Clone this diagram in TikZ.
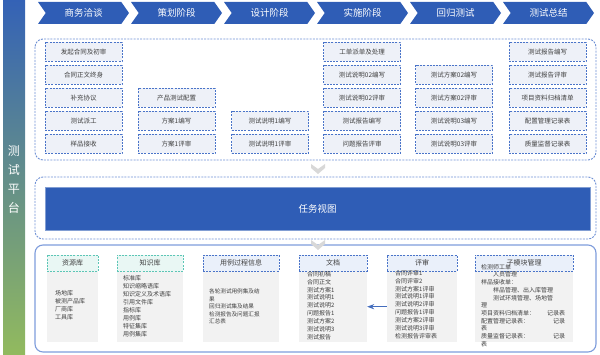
\documentclass[tikz,border=0pt]{standalone}
\usepackage{fontspec}
\setmainfont{Noto Sans CJK SC}
\usetikzlibrary{shapes.symbols,arrows.meta}

\definecolor{phaseblue}{HTML}{2F5DB6}
\definecolor{dashblue}{HTML}{4A74C9}
\definecolor{boxfill}{HTML}{EEF1F8}
\definecolor{txtgray}{HTML}{404040}
\definecolor{tealdash}{HTML}{5CC6B6}
\definecolor{tealfill}{HTML}{E9F7F4}
\definecolor{hdrfill}{HTML}{EAF0FA}
\definecolor{panelgray}{HTML}{F2F2F2}
\definecolor{framblue}{HTML}{7E9CDB}
\definecolor{arrowgray}{HTML}{D8D8D8}
\definecolor{barblue}{HTML}{3462B6}
\definecolor{barteal}{HTML}{52C2B4}
\definecolor{bargreen}{HTML}{92BA5E}

\tikzset{
  phase/.style={signal, signal from=west, signal to=east, signal pointer angle=110,
    fill=phaseblue, text=white, minimum width=91pt, minimum height=22pt, inner sep=0pt,
    font=\fontsize{9.5}{10}\selectfont},
  stepbox/.style={draw=dashblue, dash pattern=on 2pt off 1.2pt, line width=0.9pt,
    fill=boxfill, text=txtgray, minimum width=77pt, minimum height=19pt, inner sep=0pt,
    font=\fontsize{6.5}{7}\selectfont},
  outerdash/.style={draw=dashblue!80, dash pattern=on 2pt off 1.2pt, line width=0.9pt, rounded corners=8pt},
  hdr/.style={draw=dashblue, dash pattern=on 2pt off 1.2pt, line width=0.9pt, fill=hdrfill,
    text=txtgray, minimum height=16pt, inner sep=0pt, font=\fontsize{7}{8}\selectfont},
  tealhdr/.style={hdr, draw=tealdash, fill=tealfill},
  panel/.style={fill=panelgray, minimum height=71pt, inner sep=0pt, anchor=north},
  listtxt/.style={anchor=north west, align=left, inner sep=0pt, text=txtgray,
    font=\fontsize{6}{8}\selectfont},
  downarrow/.style={fill=arrowgray}
}

\begin{document}
\begin{tikzpicture}[x=1pt, y=-1pt, >=Stealth]
\useasboundingbox (0,0) rectangle (600,355);

% left bar
\shade[top color=barblue, middle color=barteal, bottom color=bargreen] (3,0) rectangle (25,355);
\node[text=white, align=center, font=\fontsize{12}{19}\selectfont] (platform) at (14,180) {测\\试\\平\\台};

% phases
\node[phase] (p1) at (83.5,13) {商务洽谈};
\node[phase] (p2) at (176.5,13) {策划阶段};
\node[phase] (p3) at (269.5,13) {设计阶段};
\node[phase] (p4) at (362.5,13) {实施阶段};
\node[phase] (p5) at (455.5,13) {回归测试};
\node[phase] (p6) at (548.5,13) {测试总结};

% workflow steps
\draw[outerdash] (35,39) rectangle (596,160);
\foreach \t [count=\i] in {发起合同及初审, 合同正文终身, 补充协议, 测试派工, 样品接收}
  \node[stepbox] (a\i) at (83.5,29+23*\i) {\t};
\foreach \t [count=\i from 3] in {产品测试配置, 方案1编写, 方案1评审}
  \node[stepbox] (b\i) at (176.5,29+23*\i) {\t};
\foreach \t [count=\i from 4] in {测试说明1编写, 测试说明1评审}
  \node[stepbox] (c\i) at (270,29+23*\i) {\t};
\foreach \t [count=\i] in {工单派单及处理, 测试说明02编写, 测试说明02评审, 测试报告编写, 问题报告评审}
  \node[stepbox] (d\i) at (362,29+23*\i) {\t};
\foreach \t [count=\i from 2] in {测试方案02编写, 测试方案02评审, 测试说明03编写, 测试说明03评审}
  \node[stepbox] (e\i) at (454,29+23*\i) {\t};
\foreach \t [count=\i] in {测试报告编写, 测试报告评审, 项目资料归档清单, 配置管理记录表, 质量监督记录表}
  \node[stepbox] (f\i) at (547.5,29+23*\i) {\t};

% task view
\fill[downarrow] (311,164) -- (318,169) -- (325,164) -- (325,168) -- (318,174) -- (311,168) -- cycle;
\draw[outerdash] (35,177) rectangle (596,239);
\node[fill=phaseblue, draw=phaseblue!60, text=white, minimum width=545pt, minimum height=43pt,
  font=\fontsize{9.5}{10}\selectfont] (taskview) at (317.5,208.5) {任务视图};

% data
\draw[framblue, line width=1.1pt, rounded corners=8pt] (35,245) rectangle (596,352);
\fill[downarrow] (311,240) -- (318,245) -- (325,240) -- (325,244) -- (318,250) -- (311,244) -- cycle;

\node[panel, minimum width=51pt] (respanel) at (72.5,271) {};
\node[panel, minimum width=66pt] (knowpanel) at (150,271) {};
\node[panel, minimum width=76pt] (casepanel) at (241,271) {};
\node[panel, minimum width=68pt] (docpanel) at (333,271) {};
\node[panel, minimum width=70pt] (revpanel) at (422,271) {};
\node[panel, minimum width=98pt] (modpanel) at (524,271) {};

\node[tealhdr, minimum width=51pt] (reshdr) at (72.5,263) {资源库};
\node[tealhdr, minimum width=66pt] (knowhdr) at (150,263) {知识库};
\node[hdr, minimum width=76pt] (casehdr) at (241,263) {用例过程信息};
\node[hdr, minimum width=68pt] (dochdr) at (333,263) {文档};
\node[hdr, minimum width=70pt] (revhdr) at (422,263) {评审};
\node[hdr, minimum width=98pt] (modhdr) at (524,263) {子模块管理};

\node[listtxt] (restxt) at (55,290) {场地库\\被测产品库\\厂商库\\工具库};
\node[listtxt] (knowtxt) at (123,275) {标准库\\知识缩略语库\\知识定义及术语库\\引用文件库\\指标库\\用例库\\特征集库\\用例集库};
\node[listtxt, font=\fontsize{5.6}{7.5}\selectfont] (casetxt) at (209,289)
  {各轮测试用例集及结\\果\\回归测试集及结果\\检测报告及问题汇报\\汇总表};
\node[listtxt, font=\fontsize{6}{7.9}\selectfont] (doctxt) at (307,271)
  {合同初稿\\合同正文\\测试方案1\\测试说明1\\测试说明2\\问题报告1\\测试方案2\\测试说明3\\测试报告};
\node[listtxt, font=\fontsize{6}{7.9}\selectfont] (revtxt) at (395,270)
  {合同评审1\\合同评审2\\测试方案1评审\\测试说明1评审\\测试说明2评审\\问题报告1评审\\测试方案2评审\\测试说明3评审\\检测报告评审表};
\node[listtxt, text width=84pt, font=\fontsize{6}{7.7}\selectfont] (modtxt) at (481,264)
  {检测师工单\\\hspace*{12pt}人员管理\\样品接收单：\\\hspace*{12pt}样品管理、出入库管理\\\hspace*{12pt}测试环境管理、场地管\\理\\项目资料归档清单：\hfill 记录表\\配置管理记录表：\hfill 记录\\表\\质量监督记录表：\hfill 记录\\表};

\draw[->, phaseblue!90, line width=0.9pt] (revpanel.west) -- (docpanel.east);
\end{tikzpicture}
\end{document}
